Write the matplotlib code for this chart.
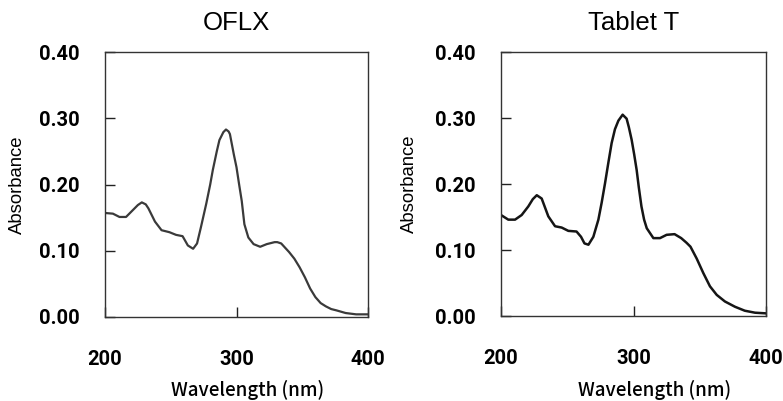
import matplotlib
matplotlib.use("Agg")
import matplotlib.pyplot as plt

# OFLX spectrum
oflx_wl = [200, 206, 211, 216, 221, 225, 228, 231, 233, 238, 243, 249, 254, 259, 263, 267,
           270, 273, 277, 280, 282, 285, 287, 290, 292, 294, 295, 298, 300, 302, 304, 306,
           309, 313, 318, 323, 329, 331, 334, 340, 344, 348, 352, 356, 360, 364, 368, 372,
           376, 383, 391, 400]
oflx_abs = [0.157, 0.156, 0.151, 0.151, 0.161, 0.169, 0.173, 0.170, 0.164, 0.144, 0.131,
            0.128, 0.124, 0.122, 0.108, 0.103, 0.111, 0.136, 0.171, 0.200, 0.222, 0.250,
            0.267, 0.279, 0.283, 0.280, 0.276, 0.245, 0.226, 0.200, 0.175, 0.140, 0.120,
            0.110, 0.106, 0.110, 0.113, 0.113, 0.111, 0.098, 0.088, 0.075, 0.060, 0.043,
            0.030, 0.021, 0.016, 0.012, 0.010, 0.006, 0.004, 0.004]

# Tablet T spectrum
tab_wl = [200, 205.5, 210.6, 215.6, 220.6, 224, 227, 230.7, 235.7, 240.8, 245.8, 250.8,
          257, 260.4, 263, 266, 269.7, 273.5, 276, 278.5, 281, 283.5, 286, 288.6, 291.8,
          294.8, 296.5, 298.6, 300.5, 302.4, 304, 306, 308, 310, 315, 320, 325, 331, 336,
          340, 343, 347.7, 352.7, 357.7, 362.8, 369, 376.6, 384, 391.7, 400]
tab_abs = [0.153, 0.146, 0.146, 0.153, 0.166, 0.177, 0.183, 0.178, 0.151, 0.136, 0.134,
           0.129, 0.128, 0.120, 0.110, 0.108, 0.120, 0.146, 0.172, 0.201, 0.232, 0.262,
           0.283, 0.296, 0.305, 0.299, 0.286, 0.267, 0.245, 0.221, 0.195, 0.166, 0.146,
           0.133, 0.118, 0.118, 0.123, 0.124, 0.118, 0.111, 0.105, 0.087, 0.065, 0.045,
           0.032, 0.022, 0.014, 0.008, 0.005, 0.004]

titles = ["OFLX", "Tablet T"]
xticks = [200, 300, 400]
yticks = [0.0, 0.1, 0.2, 0.3, 0.4]
ytick_labels = ["0.00", "0.10", "0.20", "0.30", "0.40"]
xlabel = "Wavelength (nm)"
ylabel = "Absorbance"

W, H = 783, 401
fig = plt.figure(figsize=(W / 100, H / 100), dpi=100)
# axes boxes in pixels: left, top, right, bottom
boxes = [(105, 52, 368, 317), (501, 52, 766, 316)]
series = [(oflx_wl, oflx_abs, "#3a3a3a", 1.6), (tab_wl, tab_abs, "#151515", 1.8)]
ylabel_x = [-0.30, -0.315]
xlabel_cx = [248, 655]
xlabel_base = 396

tick_font = dict(family=["Roboto", "DejaVu Sans"], weight="bold", size=14.5)
for (l, t, r, b), (wl, ab, col, lw), title, lx, xc in zip(boxes, series, titles,
                                                          ylabel_x, xlabel_cx):
    ax = fig.add_axes([l / W, 1 - b / H, (r - l) / W, (b - t) / H])
    ax.plot(wl, ab, color=col, lw=lw, solid_joinstyle="round")
    ax.set_xlim(200, 400)
    ax.set_ylim(0, 0.4)
    ax.set_xticks(xticks)
    ax.set_xticklabels([str(x) for x in xticks], fontdict=tick_font)
    ax.set_yticks(yticks)
    ax.set_yticklabels(ytick_labels, fontdict=tick_font)
    ax.tick_params(direction="in", length=7, width=1, color="#222222")
    ax.tick_params(axis="x", pad=24)
    ax.tick_params(axis="y", pad=18)
    for s in ax.spines.values():
        s.set_linewidth(1.0)
        s.set_color("#333333")
    ax.set_title(title, fontsize=18.5, family=["Liberation Sans", "DejaVu Sans"], pad=16)
    ax.set_xlabel(xlabel, fontsize=13.5, family=["Noto Sans CJK JP", "DejaVu Sans"],
                  weight="medium")
    ax.xaxis.label.set_va("baseline")
    ax.xaxis.set_label_coords((xc - l) / (r - l), -(xlabel_base - b) / (b - t))
    ax.set_ylabel(ylabel, fontsize=13.3, family=["Liberation Sans", "DejaVu Sans"])
    ax.yaxis.set_label_coords(lx, 0.5)

fig.savefig("out.png", dpi=100)
